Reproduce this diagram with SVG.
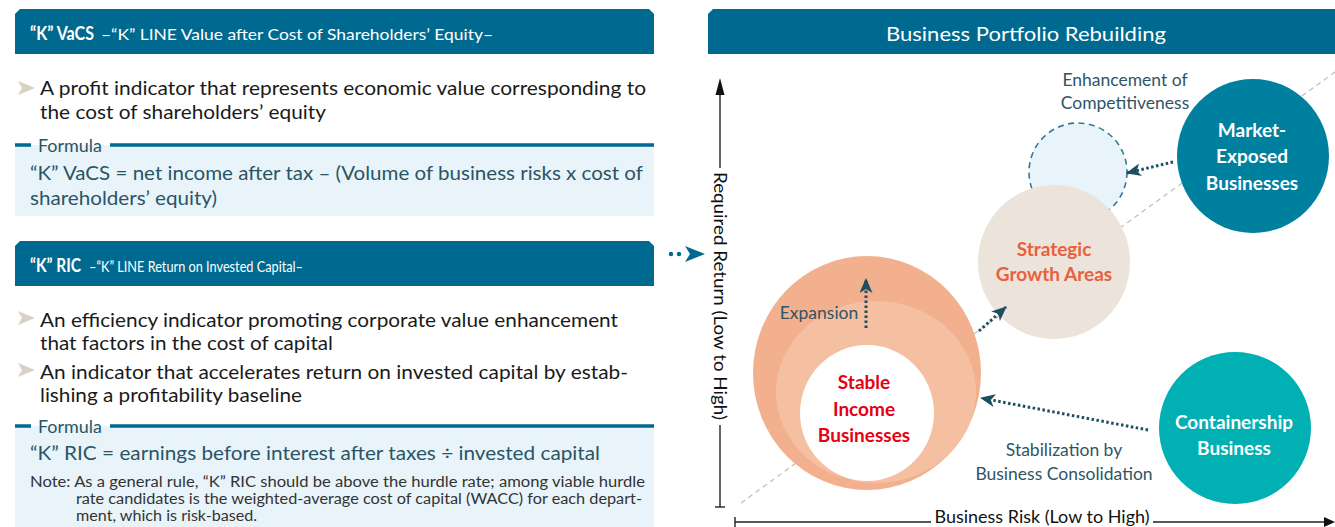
<svg xmlns="http://www.w3.org/2000/svg" width="1335" height="527" viewBox="0 0 1335 527">
<defs>
<style>
.hdr{fill:#00698f}
.ht{fill:#fff;font-family:Lato,"Liberation Sans",sans-serif}
.hb{font-weight:bold;font-size:18px}
.hs{font-size:15px}
.body{fill:#1a1a1a;font-family:Lato,"Liberation Sans",sans-serif;font-size:20px}
.fbox{fill:#e8f4fa}
.fline{stroke:#00698f;stroke-width:3.5}
.flab{fill:#2a5566;font-family:Lato,"Liberation Sans",sans-serif;font-size:16.5px}
.ftxt{fill:#2a5566;font-family:Lato,"Liberation Sans",sans-serif;font-size:20px}
.note{fill:#333;font-family:Lato,"Liberation Sans",sans-serif;font-size:15.5px}
.bul{fill:#d9d1c3}
.lab{fill:#2f5565;font-family:Lato,"Liberation Sans",sans-serif;font-size:17.5px;text-anchor:middle}
.nt{font-family:Lato,"Liberation Sans",sans-serif;font-weight:bold;font-size:19px;text-anchor:middle}
.dot{fill:none;stroke:#1d4f60;stroke-width:3;stroke-dasharray:2.5 2.5}
.ax{stroke:#222;stroke-width:1.4;fill:none}
.axt{fill:#111;font-family:Lato,"Liberation Sans",sans-serif;font-size:17.5px;text-anchor:middle}
</style>
<marker id="ah" markerUnits="userSpaceOnUse" markerWidth="15" markerHeight="13" viewBox="0 0 15 13" refX="14" refY="6.5" orient="auto">
<path d="M0,0 L15,6.5 L0,13 L4,6.5 Z" fill="#1d4f60"/>
</marker>
</defs>

<g id="vacs-header">
<path class="hdr" d="M15,14 L20,9 L649,9 L654,14 L654,54 L15,54 Z"/>
<text class="ht hb" x="30" y="40" textLength="64" lengthAdjust="spacingAndGlyphs">“K” VaCS</text>
<text class="ht hs" x="101" y="40" textLength="392" lengthAdjust="spacingAndGlyphs">–“K” LINE Value after Cost of Shareholders’ Equity–</text>
</g>

<g id="vacs-bullet">
<polygon class="bul" points="18,81 35,88 18,95 22,88"/>
<text class="body" x="40" y="95" textLength="606" lengthAdjust="spacingAndGlyphs">A profit indicator that represents economic value corresponding to</text>
<text class="body" x="40" y="119" textLength="286" lengthAdjust="spacingAndGlyphs">the cost of shareholders’ equity</text>
</g>

<g id="vacs-formula">
<rect class="fbox" x="15" y="145" width="639" height="71"/>
<line class="fline" x1="15" y1="145" x2="31" y2="145"/>
<line class="fline" x1="110" y1="145" x2="654" y2="145"/>
<text class="flab" x="38" y="152" textLength="64" lengthAdjust="spacingAndGlyphs">Formula</text>
<text class="ftxt" x="30" y="180" textLength="613" lengthAdjust="spacingAndGlyphs">“K” VaCS = net income after tax – (Volume of business risks x cost of</text>
<text class="ftxt" x="30" y="205" textLength="187" lengthAdjust="spacingAndGlyphs">shareholders’ equity)</text>
</g>

<g id="ric-header">
<path class="hdr" d="M15,246 L20,241 L649,241 L654,246 L654,286 L15,286 Z"/>
<text class="ht hb" x="30" y="272" textLength="51" lengthAdjust="spacingAndGlyphs">“K” RIC</text>
<text class="ht hs" x="89" y="272" textLength="214" lengthAdjust="spacingAndGlyphs">–“K” LINE Return on Invested Capital–</text>
</g>

<g id="ric-bullets">
<polygon class="bul" points="18,311 35,318 18,325 22,318"/>
<text class="body" x="40" y="327" textLength="578" lengthAdjust="spacingAndGlyphs">An efficiency indicator promoting corporate value enhancement</text>
<text class="body" x="40" y="350" textLength="293" lengthAdjust="spacingAndGlyphs">that factors in the cost of capital</text>
<polygon class="bul" points="18,363 35,370 18,377 22,370"/>
<text class="body" x="40" y="379" textLength="588" lengthAdjust="spacingAndGlyphs">An indicator that accelerates return on invested capital by estab-</text>
<text class="body" x="40" y="402" textLength="262" lengthAdjust="spacingAndGlyphs">lishing a profitability baseline</text>
</g>

<g id="ric-formula">
<rect class="fbox" x="15" y="426" width="639" height="101"/>
<line class="fline" x1="15" y1="426" x2="31" y2="426"/>
<line class="fline" x1="110" y1="426" x2="654" y2="426"/>
<text class="flab" x="38" y="433" textLength="64" lengthAdjust="spacingAndGlyphs">Formula</text>
<text class="ftxt" x="30" y="460" font-size="21" textLength="570" lengthAdjust="spacingAndGlyphs">“K” RIC = earnings before interest after taxes ÷ invested capital</text>
<text class="note" x="30" y="487" textLength="615" lengthAdjust="spacingAndGlyphs">Note: As a general rule, “K” RIC should be above the hurdle rate; among viable hurdle</text>
<text class="note" x="76" y="504" textLength="566" lengthAdjust="spacingAndGlyphs">rate candidates is the weighted-average cost of capital (WACC) for each depart-</text>
<text class="note" x="76" y="521" textLength="181" lengthAdjust="spacingAndGlyphs">ment, which is risk-based.</text>
</g>

<g id="link-arrow">
<circle cx="671" cy="254" r="2.2" fill="#00698f"/>
<circle cx="679" cy="254" r="2.2" fill="#00698f"/>
<path d="M685,246 L705,254 L685,262 L690,254 Z" fill="#00698f"/>
</g>

<g id="portfolio-header">
<path class="hdr" d="M708,14 L713,9 L1335,9 L1335,54 L708,54 Z"/>
<text class="ht" x="886" y="41" font-size="20" textLength="280" lengthAdjust="spacingAndGlyphs">Business Portfolio Rebuilding</text>
</g>

<g id="axes">
<line x1="741" y1="503" x2="1335" y2="72" stroke="#bdbdbd" stroke-width="1.2" stroke-dasharray="5 4"/>
<line class="ax" x1="720" y1="92" x2="720" y2="168"/>
<path d="M715.5,95 L720,78 L724.5,95 Z" fill="#111"/>
<line class="ax" x1="720" y1="425" x2="720" y2="507"/>
<line class="ax" x1="715" y1="507" x2="725" y2="507"/>
<text class="axt" transform="translate(714,296) rotate(90)" x="0" y="0" textLength="248" lengthAdjust="spacingAndGlyphs">Required Return (Low to High)</text>
<line class="ax" x1="735" y1="517" x2="735" y2="527"/>
<line class="ax" x1="735" y1="522" x2="931" y2="522"/>
<line class="ax" x1="1153" y1="522" x2="1330" y2="522"/>
<path d="M1324,517 L1335,522 L1324,527 Z" fill="#111"/>
<text class="axt" x="1042" y="523" font-size="16.5" textLength="215" lengthAdjust="spacingAndGlyphs">Business Risk (Low to High)</text>
</g>

<g id="enhancement">
<circle cx="1078" cy="172" r="49" fill="#e8f4fa" stroke="#2e7a9a" stroke-width="1.6" stroke-dasharray="6 4.5"/>
<text class="lab" x="1125" y="86">Enhancement of</text>
<text class="lab" x="1125" y="109">Competitiveness</text>
</g>

<g id="strategic">
<ellipse cx="1054" cy="262" rx="76" ry="77" fill="#ece3da"/>
<text class="nt" x="1054" y="256" fill="#e8603c">Strategic</text>
<text class="nt" x="1054" y="281" fill="#e8603c">Growth Areas</text>
</g>

<g id="market">
<ellipse cx="1253" cy="156" rx="76" ry="77" fill="#00809f"/>
<text class="nt" x="1252" y="137" fill="#fff">Market-</text>
<text class="nt" x="1252" y="163" fill="#fff">Exposed</text>
<text class="nt" x="1252" y="190" fill="#fff">Businesses</text>
</g>

<g id="stable">
<ellipse cx="867" cy="373" rx="114" ry="117" fill="#f2b08e"/>
<ellipse cx="876" cy="392" rx="100" ry="91" fill="#f5bfa1"/>
<ellipse cx="867" cy="413" rx="67" ry="68" fill="#fff"/>
<text class="nt" x="864" y="389" fill="#e60012">Stable</text>
<text class="nt" x="864" y="416" fill="#e60012">Income</text>
<text class="nt" x="864" y="442" fill="#e60012">Businesses</text>
<text class="lab" x="819" y="319">Expansion</text>
</g>

<g id="containership">
<ellipse cx="1235" cy="428" rx="76" ry="76" fill="#00b0b3"/>
<text class="nt" x="1234" y="429" fill="#fff">Containership</text>
<text class="nt" x="1234" y="455" fill="#fff">Business</text>
<text class="lab" x="1064" y="456">Stabilization by</text>
<text class="lab" x="1064" y="480">Business Consolidation</text>
</g>

<g id="connectors">
<path class="dot" d="M866,328 L866,279" marker-end="url(#ah)"/>
<path class="dot" d="M979,331 L1006,307" marker-end="url(#ah)"/>
<path class="dot" d="M1148,430 L981,398" marker-end="url(#ah)"/>
<path class="dot" d="M1173,162 L1127,173" marker-end="url(#ah)"/>
</g>
</svg>
